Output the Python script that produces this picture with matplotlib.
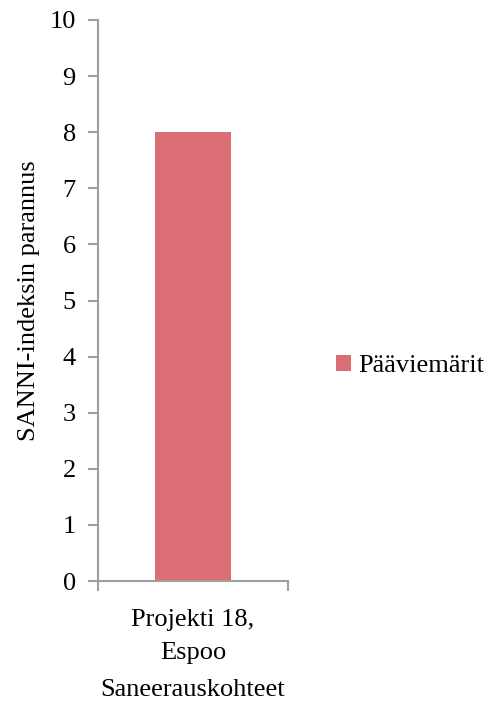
import matplotlib.pyplot as plt
from matplotlib.patches import Patch

plt.rcParams['font.family'] = ['Liberation Serif', 'DejaVu Serif']

categories = ['Projekti 18,\nEspoo']
series_name = 'Pääviemärit'
values = [8]

bar_color = '#DB6E74'
axis_color = '#9E9E9E'
fs = 19

fig = plt.figure(figsize=(4.88, 7.03), dpi=100)
ax = fig.add_axes([98 / 488, 1 - 581 / 703, 190 / 488, 561 / 703])

x = list(range(len(categories)))
ax.bar(x, values, width=0.4, color=bar_color, zorder=2)

ax.set_xlim(-0.5, len(categories) - 0.5)
ax.set_ylim(0, 10)
ax.set_yticks(range(0, 11))

for side in ['top', 'right']:
    ax.spines[side].set_visible(False)
for side in ['left', 'bottom']:
    ax.spines[side].set_color(axis_color)
    ax.spines[side].set_linewidth(1.5)

ax.tick_params(axis='y', direction='out', length=7, width=1.5, color=axis_color,
               labelsize=fs, pad=9)

# category boundaries get the tick marks, labels sit at the centres
ax.set_xticks([-0.5, len(categories) - 0.5])
ax.set_xticklabels([])
ax.tick_params(axis='x', direction='out', length=7, width=1.5, color=axis_color)
ax.set_xticks(x, minor=True)
ax.set_xticklabels(categories, minor=True, fontsize=fs, linespacing=1.65)
ax.tick_params(axis='x', which='minor', length=0, pad=20)

ax.set_xlabel('Saneerauskohteet', fontsize=fs, labelpad=11)
ax.set_ylabel('SANNI-indeksin parannus', fontsize=fs, labelpad=7)

handles = [Patch(facecolor=bar_color, label=series_name)]
fig.legend(handles=handles, loc='center left', bbox_to_anchor=(336 / 488, 1 - 366 / 703),
           frameon=False, fontsize=fs, handlelength=0.55, handleheight=0.55,
           handletextpad=0.3, borderpad=0, borderaxespad=0)

fig.savefig('out.png', dpi=100)
